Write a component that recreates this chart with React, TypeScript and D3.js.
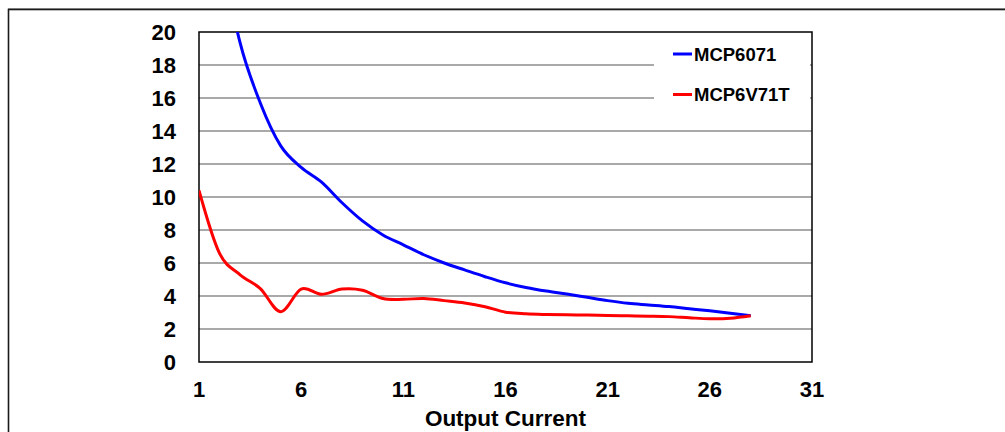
import React from "react";
import * as d3 from "d3";

const xValues = [1, 2, 3, 4, 5, 6, 7, 8, 9, 10, 11, 12, 13, 14, 15, 16, 17, 18, 19, 20, 21, 22, 23, 24, 25, 26, 27, 28];
const mcp6071 = [35, 25.5, 19.4, 15.7, 13.1, 11.8, 10.9, 9.65, 8.55, 7.7, 7.1, 6.5, 6.0, 5.58, 5.17, 4.8, 4.52, 4.3, 4.12, 3.92, 3.72, 3.56, 3.46, 3.36, 3.23, 3.1, 2.96, 2.8];
const mcp6v71t = [10.4, 6.6, 5.3, 4.45, 3.05, 4.42, 4.1, 4.42, 4.35, 3.85, 3.8, 3.85, 3.72, 3.58, 3.35, 3.02, 2.92, 2.88, 2.86, 2.85, 2.82, 2.8, 2.78, 2.75, 2.68, 2.62, 2.65, 2.8];
const seriesNames = ["MCP6071", "MCP6V71T"];
const seriesColors = ["#0000FF", "#FF0000"];
const xTicks = [1, 6, 11, 16, 21, 26, 31];
const yTicks = [0, 2, 4, 6, 8, 10, 12, 14, 16, 18, 20];
const xTitle = "Output Current";

const W = 1005;
const H = 432;
const plot = { left: 199, right: 812, top: 32, bottom: 362 };
const FONT = "'Liberation Sans', Arial, sans-serif";

export default function App() {
  const x = d3.scaleLinear().domain([1, 31]).range([plot.left, plot.right]);
  const y = d3.scaleLinear().domain([0, 20]).range([plot.bottom, plot.top]);
  const line = d3
    .line<number>()
    .x((_, i) => x(xValues[i]))
    .y((d) => y(d))
    .curve(d3.curveCatmullRom.alpha(0));
  const series = [mcp6071, mcp6v71t];

  return (
    <svg
      width={W}
      height={H}
      style={{ position: "absolute", left: 0, top: 0, background: "#fff" }}
      fontFamily={FONT}
    >
      <defs>
        <clipPath id="plotClip">
          <rect x={plot.left} y={plot.top} width={plot.right - plot.left} height={plot.bottom - plot.top} />
        </clipPath>
      </defs>
      <rect x={0} y={0} width={W} height={H} fill="#fff" />
      {/* outer frame */}
      <line x1={8} y1={8.5} x2={W} y2={8.5} stroke="#aaa" strokeWidth={1} />
      <rect x={8.5} y={9.5} width={W + 20} height={H + 20} fill="none" stroke="#1a1a1a" strokeWidth={1.6} />

      {/* gridlines */}
      {yTicks
        .filter((t) => t > 0 && t < 20)
        .map((t) => (
          <line key={t} x1={plot.left} x2={plot.right} y1={y(t)} y2={y(t)} stroke="#555" strokeWidth={1.1} />
        ))}

      {/* plot border */}
      <rect
        x={plot.left}
        y={plot.top}
        width={plot.right - plot.left}
        height={plot.bottom - plot.top}
        fill="none"
        stroke="#000"
        strokeWidth={1.5}
      />

      {/* legend background */}
      <rect x={654} y={plot.top + 1} width={156} height={82} fill="#fff" />

      {/* series */}
      <g clipPath="url(#plotClip)">
        {series.map((s, i) => (
          <path key={i} d={line(s) || ""} fill="none" stroke={seriesColors[i]} strokeWidth={3} strokeLinejoin="round" />
        ))}
      </g>

      {/* y tick labels */}
      {yTicks.map((t) => (
        <text key={t} x={176} y={y(t)} dy="0.36em" textAnchor="end" fontSize={22} fontWeight="bold" fill="#000">
          {t}
        </text>
      ))}

      {/* x tick labels */}
      {xTicks.map((t) => (
        <text key={t} x={x(t)} y={397} textAnchor="middle" fontSize={22} fontWeight="bold" fill="#000">
          {t}
        </text>
      ))}

      {/* x title */}
      <text x={(plot.left + plot.right) / 2} y={426} textAnchor="middle" fontSize={22.5} fontWeight="bold" fill="#000">
        {xTitle}
      </text>

      {/* legend */}
      {seriesNames.map((n, i) => {
        const ly = 54 + i * 40.5;
        return (
          <g key={n}>
            <line x1={673} x2={692} y1={ly} y2={ly} stroke={seriesColors[i]} strokeWidth={3} />
            <text x={694} y={ly} dy="0.36em" fontSize={18.5} fontWeight="bold" fill="#000">
              {n}
            </text>
          </g>
        );
      })}
    </svg>
  );
}
